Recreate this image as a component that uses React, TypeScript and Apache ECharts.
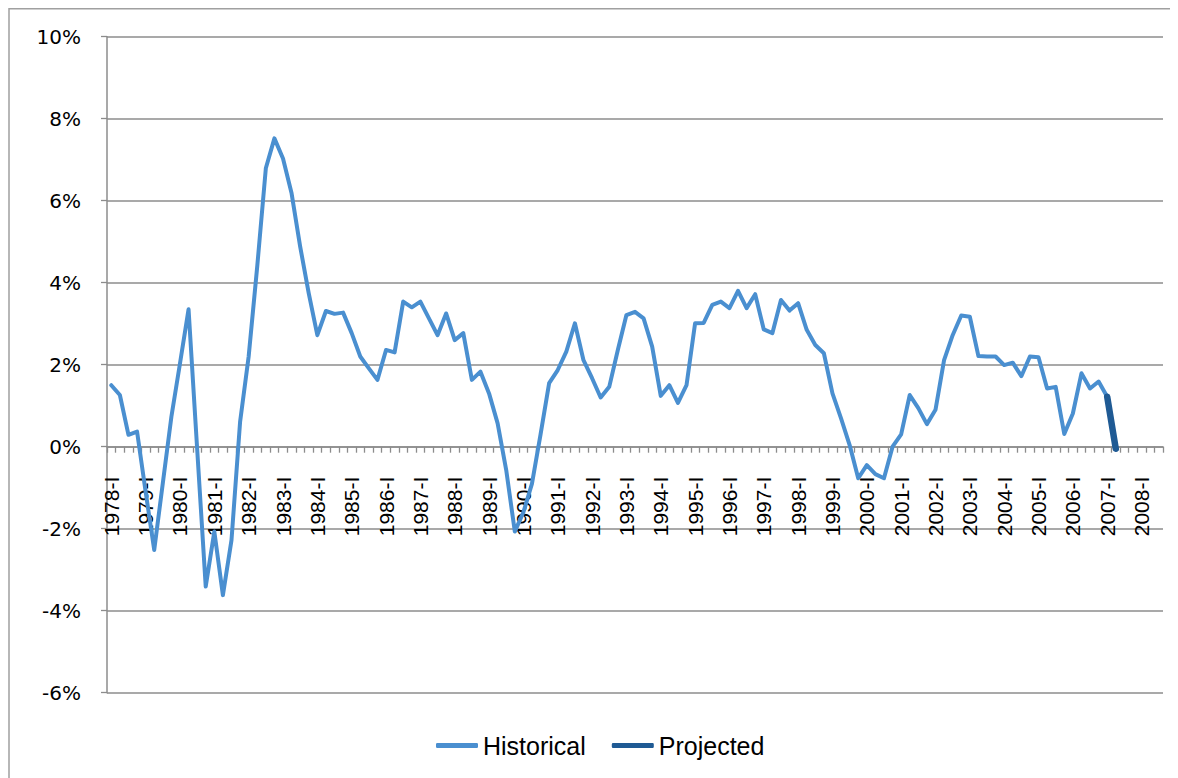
import React, { useEffect, useRef } from "react";
import * as echarts from "echarts";

const years = [
  1978, 1979, 1980, 1981, 1982, 1983, 1984, 1985, 1986, 1987, 1988, 1989, 1990,
  1991, 1992, 1993, 1994, 1995, 1996, 1997, 1998, 1999, 2000, 2001, 2002, 2003,
  2004, 2005, 2006, 2007, 2008,
];
const quarters = ["I", "II", "III", "IV"];
const categoryCount = 123; // 1978-I .. 2008-III

const historical = [
  1.5, 1.26, 0.29, 0.37, -1.1, -2.52, -0.89, 0.73, 2.03, 3.35,
  -0.05, -3.41, -2.07, -3.62, -2.28, 0.6, 2.2, 4.4, 6.79, 7.52,
  7.03, 6.18, 4.88, 3.74, 2.72, 3.31, 3.24, 3.27, 2.77, 2.2,
  1.91, 1.63, 2.36, 2.3, 3.54, 3.4, 3.54, 3.13, 2.72, 3.25,
  2.6, 2.77, 1.63, 1.83, 1.3, 0.57, -0.57, -2.07, -1.6, -0.9,
  0.3, 1.55, 1.87, 2.32, 3.01, 2.11, 1.67, 1.2, 1.46, 2.36,
  3.21, 3.29, 3.13, 2.44, 1.24, 1.5, 1.07, 1.5, 3.01, 3.02,
  3.46, 3.54, 3.38, 3.8, 3.38, 3.72, 2.86, 2.77, 3.58, 3.32,
  3.5, 2.85, 2.48, 2.28, 1.3, 0.69, 0.04, -0.77, -0.45, -0.67,
  -0.77, 0.0, 0.3, 1.26, 0.94, 0.55, 0.9, 2.11, 2.72, 3.2,
  3.17, 2.21, 2.2, 2.2, 1.99, 2.05, 1.72, 2.2, 2.18, 1.42,
  1.46, 0.31, 0.81, 1.79, 1.42, 1.59, 1.22,
];
const projectedStart = "2007-I";
const projected = [1.22, -0.05];

const yTicks = { min: -6, max: 10, interval: 2 };

export default function App() {
  const ref = useRef<HTMLDivElement>(null);
  useEffect(() => {
    if (!ref.current) return;
    const chart = echarts.init(ref.current, undefined, { renderer: "svg" });
    const categories = years
      .flatMap((y) => quarters.map((q) => `${y}-${q}`))
      .slice(0, categoryCount);
    const histData: (number | null)[] = categories.map((_, i) =>
      i < historical.length ? historical[i] : null
    );
    const pStart = categories.indexOf(projectedStart);
    const projData: (number | null)[] = categories.map((_, i) =>
      i >= pStart && i < pStart + projected.length ? projected[i - pStart] : null
    );
    const gray = "#8c8c8c";
    const gridTop = 28.7;
    const gridBottom = 85.3;
    const height = 770;
    const plotH = height - gridTop - gridBottom;
    // distance from the bottom edge of the plot to the zero line
    const zeroOffset = (plotH * (0 - yTicks.min)) / (yTicks.max - yTicks.min);
    chart.setOption({
      animation: false,
      backgroundColor: "#ffffff",
      graphic: [
        {
          type: "rect",
          shape: { x: 1, y: 0.75, width: 1400, height: 1000 },
          style: { fill: "none", stroke: "#a0a0a0", lineWidth: 1.5 },
          silent: true,
        },
      ],
      grid: { left: 99, right: 15, top: gridTop, bottom: gridBottom, containLabel: false },
      legend: {
        left: 423,
        top: 720,
        itemWidth: 42,
        itemHeight: 5,
        itemGap: 26,
        icon: "roundRect",
        textStyle: {
          fontFamily: "Liberation Sans, Arial, sans-serif",
          fontSize: 25,
          color: "#000",
        },
        data: ["Historical", "Projected"],
      },
      xAxis: {
        type: "category",
        data: categories,
        boundaryGap: true,
        offset: -zeroOffset,
        axisLine: { onZero: false, lineStyle: { color: gray, width: 1.5 } },
        axisTick: {
          show: true,
          interval: 0,
          length: 6,
          lineStyle: { color: gray, width: 1.3 },
        },
        axisLabel: {
          interval: 3,
          rotate: 90,
          margin: 30,
          fontFamily: "Liberation Sans, Arial, sans-serif",
          fontSize: 21,
          color: "#000",
        },
        splitLine: { show: false },
      },
      yAxis: {
        type: "value",
        min: yTicks.min,
        max: yTicks.max,
        interval: yTicks.interval,
        axisLine: { show: true, lineStyle: { color: gray, width: 1.5 } },
        axisTick: { show: true, length: 6, lineStyle: { color: gray, width: 1.3 } },
        axisLabel: {
          margin: 26,
          formatter: (v: number) => `${v}%`,
          fontFamily: "DejaVu Sans, Verdana, sans-serif",
          fontSize: 20,
          color: "#000",
        },
        splitLine: { show: true, lineStyle: { color: gray, width: 1.5 } },
      },
      series: [
        {
          name: "Historical",
          type: "line",
          data: histData,
          color: "#4a8fd0",
          showSymbol: false,
          symbol: "none",
          lineStyle: { width: 4, color: "#4a8fd0", cap: "round", join: "round" },
          z: 3,
        },
        {
          name: "Projected",
          type: "line",
          data: projData,
          color: "#1f5a94",
          showSymbol: false,
          symbol: "none",
          lineStyle: { width: 6.5, color: "#1f5a94", cap: "round" },
          z: 4,
        },
      ],
    });
    return () => chart.dispose();
  }, []);
  return <div ref={ref} style={{ width: 1170, height: 770 }} />;
}
